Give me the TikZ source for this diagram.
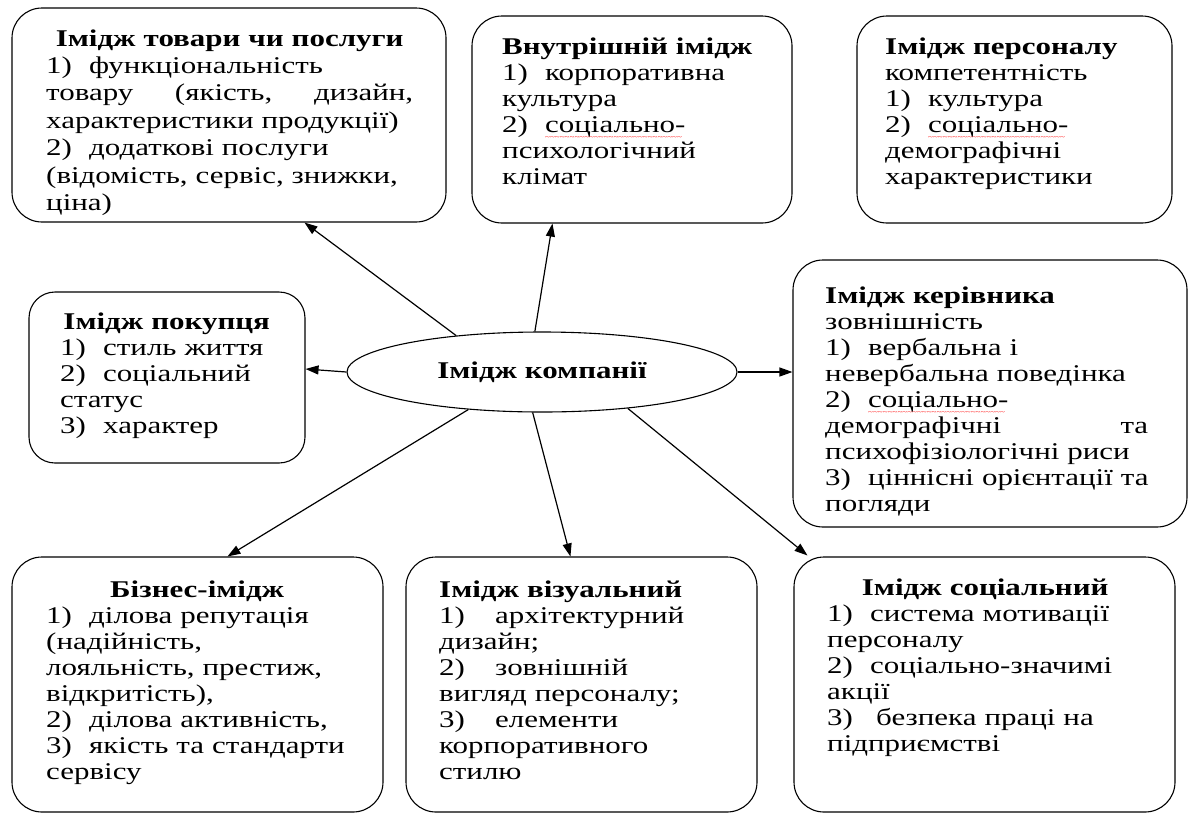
\documentclass[tikz,border=0pt]{standalone}
\usepackage{fontspec}
\setmainfont{Liberation Serif}[FakeStretch=1.29, BoldFeatures={FakeStretch=1.29}]
\usetikzlibrary{shapes.geometric,arrows.meta,calc}
\newsavebox\wavebox
\newcommand\redwave[1]{\sbox\wavebox{#1}\rlap{\raisebox{-7pt}{\color{red}\fontsize{7}{7}\selectfont\leaders\hbox{\char`\~}\hskip\wd\wavebox}}#1}
\newcommand\itm[2][43pt]{\makebox[#1][l]{#2}}
\newcommand\hd[2]{\makebox[#1pt]{\textbf{#2}}}
\newcommand\jl[2]{\makebox[#1pt][l]{#2}}
\tikzset{
 rbox/.style={draw, line width=1.1pt, rounded corners=30pt, inner sep=0pt},
 txt/.style={anchor=base west, inner sep=0pt, align=left, text width=460pt, font=\fontsize{24}{26}\selectfont},
 arr/.style={line width=1.2pt, -{Triangle[length=13pt,width=9pt]}},
}
\begin{document}
\begin{tikzpicture}[x=1pt,y=-1pt]
\fill[white] (0,0) rectangle (1190,814);
\useasboundingbox (0,0) rectangle (1190,814);
% boxes
\node[rbox, minimum width=434pt, minimum height=214pt] (b1) at (229,115) {};
\node[rbox, minimum width=320pt, minimum height=207pt] (b2) at (632,119.5) {};
\node[rbox, minimum width=315pt, minimum height=207pt] (b3) at (1014.5,119.5) {};
\node[rbox, rounded corners=26pt, minimum width=276pt, minimum height=171pt] (b4) at (167,377.5) {};
\node[rbox, minimum width=394pt, minimum height=267pt] (b5) at (990,393.5) {};
\node[rbox, minimum width=371pt, minimum height=255pt] (b6) at (197.5,684.5) {};
\node[rbox, minimum width=351pt, minimum height=255pt] (b7) at (581.5,684.5) {};
\node[rbox, minimum width=381pt, minimum height=255pt] (b8) at (984.5,684.5) {};
% texts
\node[txt, font=\fontsize{24}{27.4}\selectfont] (t1) at (46,46) {\hd{367}{Імідж товари чи послуги}\\
\itm{1)}функціональність\\
\jl{367}{товару\hfill(якість,\hfill дизайн,}\\
характеристики продукції)\\
\itm{2)}додаткові послуги\\
(відомість, сервіс, знижки,\\
ціна)};
\node[txt] (t2) at (502,54) {\textbf{Внутрішній імідж}\\
\itm{1)}корпоративна\\
культура\\
\itm{2)}\redwave{соціально-}\\
психологічний\\
клімат};
\node[txt] (t3) at (885,54) {\textbf{Імідж персоналу}\\
компетентність\\
\itm{1)}культура\\
\itm{2)}\redwave{соціально-}\\
демографічні\\
характеристики};
\node[txt] (t4) at (60,329) {\hd{213}{Імідж покупця}\\
\itm{1)}стиль життя\\
\itm{2)}соціальний\\
статус\\
\itm{3)}характер};
\node[txt] (t5) at (825,303) {\textbf{Імідж керівника}\\
зовнішність\\
\itm{1)}вербальна і\\
невербальна поведінка\\
\itm{2)}\redwave{соціально-}\\
\jl{323}{демографічні\hfill та}\\
психофізіологічні риси\\
\itm{3)}ціннісні орієнтації та\\
погляди};
\node[txt] (t6) at (46,597) {\hd{302}{Бізнес-імідж}\\
\itm{1)}ділова репутація\\
(надійність,\\
лояльність, престиж,\\
відкритість),\\
\itm{2)}ділова активність,\\
\itm{3)}якість та стандарти\\
сервісу};
\node[txt] (t7) at (439,597) {\textbf{Імідж візуальний}\\
\itm[56pt]{1)}архітектурний\\
дизайн;\\
\itm[56pt]{2)}зовнішній\\
вигляд персоналу;\\
\itm[56pt]{3)}елементи\\
корпоративного\\
стилю};
\node[txt] (t8) at (827,595) {\hd{316}{Імідж соціальний}\\
\itm{1)}система мотивації\\
персоналу\\
\itm{2)}соціально-значимі\\
акції\\
\itm{3)}\hspace{6pt}безпека праці на\\
підприємстві};
% centre
\node[ellipse, draw, line width=1.1pt, minimum width=390pt, minimum height=80pt, inner sep=0pt, font=\bfseries\fontsize{24}{26}\selectfont] (ell) at (542,372) {Імідж компанії};
% arrows
\draw[arr] (ell.157.5) -- ($(b1.south west)+(293,0)$);
\draw[arr] (ell.100) -- ($(b2.south west)+(81,0)$);
\draw[arr] (ell.west) -- ($(b4.east)+(0,-8.5)$);
\draw[arr] (ell.east) -- (ell.east -| b5.west);
\draw[arr] (ell.207.5) -- ($(b6.north west)+(216,0)$);
\draw[arr] (ell.257) -- ($(b7.north west)+(165,0)$);
\draw[arr] (ell.337) -- ($(b8.north west)+(14,-1)$);
\end{tikzpicture}
\end{document}
